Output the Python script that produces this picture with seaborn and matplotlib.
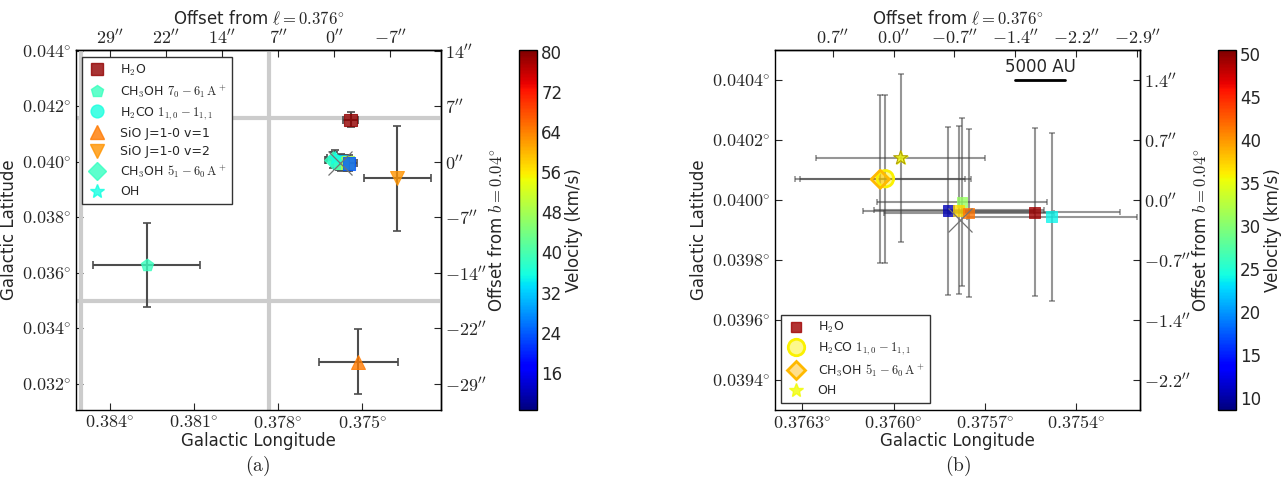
import matplotlib
matplotlib.use("Agg")
import matplotlib.pyplot as plt
from matplotlib.lines import Line2D
from matplotlib.colors import Normalize, to_rgba
from matplotlib.cm import ScalarMappable
import seaborn as sns

# positions in degrees, errors in degrees, velocities in km/s
h2o_l = [0.37541, 0.37582, 0.375775, 0.375786, 0.375753, 0.375536, 0.37548]
h2o_b = [0.04150, 0.039964, 0.039993, 0.039966, 0.039957, 0.039959, 0.039945]
h2o_lerr = [0.00027, 0.00028, 0.00028, 0.00028, 0.00028, 0.00028, 0.00028]
h2o_berr = [0.00027, 0.00028, 0.00028, 0.00028, 0.00028, 0.00028, 0.00028]
h2o_v = [79.0, 10.7, 31.0, 37.2, 41.5, 49.2, 23.9]

ch3oh70_l = [0.38268]
ch3oh70_b = [0.03628]
ch3oh70_lerr = [0.0019]
ch3oh70_berr = [0.0015]
ch3oh70_v = [38.6]

h2co_l = [0.376027]
h2co_b = [0.040071]
h2co_lerr = [0.00028]
h2co_berr = [0.00028]
h2co_v = [36.0]

sio1_l = [0.37514]
sio1_b = [0.03280]
sio1_lerr = [0.00141]
sio1_berr = [0.00118]
sio1_v = [64.5]

sio2_l = [0.37375]
sio2_b = [0.03940]
sio2_lerr = [0.0012]
sio2_berr = [0.00188]
sio2_v = [62.5]

ch3oh51_l = [0.376044]
ch3oh51_b = [0.040069]
ch3oh51_lerr = [0.00028]
ch3oh51_berr = [0.00028]
ch3oh51_v = [38.4]

oh_l = [0.375977]
oh_b = [0.040140]
oh_lerr = [0.000277]
oh_berr = [0.000279]
oh_v = [35.5]

cont_l = [0.375782]
cont_b = [0.039935]

# grey lines in panel (a)
vlines_a = [0.37833, 0.38502]
hlines_a = [0.04158, 0.03498]

l0, b0 = 0.376, 0.04
dist_pc = 8500.0
scale_au = 5000

species = [
    dict(key="h2o", label=r"H$_2$O", marker="s", l=h2o_l, b=h2o_b, lerr=h2o_lerr, berr=h2o_berr, v=h2o_v),
    dict(key="ch3oh70", label=r"CH$_3$OH $7_0-6_1\,\mathrm{A}^+$", marker="p", l=ch3oh70_l, b=ch3oh70_b,
         lerr=ch3oh70_lerr, berr=ch3oh70_berr, v=ch3oh70_v),
    dict(key="h2co", label=r"H$_2$CO $1_{1,0}-1_{1,1}$", marker="o", l=h2co_l, b=h2co_b,
         lerr=h2co_lerr, berr=h2co_berr, v=h2co_v),
    dict(key="sio1", label="SiO J=1-0 v=1", marker="^", l=sio1_l, b=sio1_b, lerr=sio1_lerr, berr=sio1_berr, v=sio1_v),
    dict(key="sio2", label="SiO J=1-0 v=2", marker="v", l=sio2_l, b=sio2_b, lerr=sio2_lerr, berr=sio2_berr, v=sio2_v),
    dict(key="ch3oh51", label=r"CH$_3$OH $5_1-6_0\,\mathrm{A}^+$", marker="D", l=ch3oh51_l, b=ch3oh51_b,
         lerr=ch3oh51_lerr, berr=ch3oh51_berr, v=ch3oh51_v),
    dict(key="oh", label="OH", marker="*", l=oh_l, b=oh_b, lerr=oh_lerr, berr=oh_berr, v=oh_v),
]

sizes_a = {"h2o": 85, "ch3oh70": 85, "h2co": 85, "sio1": 100, "sio2": 100, "ch3oh51": 80, "oh": 100}
sizes_b = {"h2o": 60, "h2co": 140, "ch3oh51": 85, "oh": 110}

sns.set_style("ticks")
plt.rcParams["font.family"] = ["DejaVu Sans"]
plt.rcParams["mathtext.fontset"] = "cm"
plt.rcParams["axes.edgecolor"] = "black"
plt.rcParams["axes.linewidth"] = 1.0

cmap = plt.get_cmap("jet")


def deg_label(val, nd):
    return r"$%.*f^{\circ}$" % (nd, val)


def arcsec_label(val, ref, nd):
    off = round((val - ref) * 3600.0, nd) + 0.0
    return r"$%.*f^{\prime\prime}$" % (nd, off)


def setup_axes(ax, xlim, ylim, xticks, yticks, top_ticks, right_ticks, nd_deg, nd_arc):
    ax.set_xlim(*xlim)
    ax.set_ylim(*ylim)
    ax.set_xticks(xticks)
    ax.set_xticklabels([deg_label(t, nd_deg) for t in xticks])
    ax.set_yticks(yticks)
    ax.set_yticklabels([deg_label(t, nd_deg) for t in yticks])
    ax.tick_params(direction="in", length=5, labelsize=13, pad=3)
    ax.set_xlabel("Galactic Longitude", fontsize=12, labelpad=0)
    ax.set_ylabel("Galactic Latitude", fontsize=12, labelpad=3)
    top = ax.secondary_xaxis("top")
    top.set_xticks(top_ticks)
    top.set_xticklabels([arcsec_label(t, l0, nd_arc) for t in top_ticks])
    top.tick_params(direction="in", length=5, labelsize=13, pad=2)
    top.set_xlabel(r"Offset from $\ell=0.376^{\circ}$", fontsize=12, labelpad=3)
    right = ax.secondary_yaxis("right")
    right.set_yticks(right_ticks)
    right.set_yticklabels([arcsec_label(t, b0, nd_arc) for t in right_ticks])
    right.tick_params(direction="in", length=5, labelsize=13, pad=3)
    right.set_ylabel(r"Offset from $b=0.04^{\circ}$", fontsize=12, labelpad=1)


fig = plt.figure(figsize=(12.84, 4.93), dpi=100)
W, H = 1284.0, 493.0
ax1 = fig.add_axes([76 / W, 83 / H, 365 / W, 360 / H])
cax1 = fig.add_axes([519 / W, 83 / H, 18 / W, 360 / H])
ax2 = fig.add_axes([775 / W, 83 / H, 365 / W, 360 / H])
cax2 = fig.add_axes([1218 / W, 83 / H, 18 / W, 360 / H])

# ---------------- panel (a) ----------------
norm_a = Normalize(8.6, 80.3)
for x in vlines_a:
    ax1.axvline(x, color="0.8", lw=3, zorder=1)
for y in hlines_a:
    ax1.axhline(y, color="0.8", lw=3, zorder=1)

for sp in species:
    ax1.errorbar(sp["l"], sp["b"], xerr=sp["lerr"], yerr=sp["berr"], fmt="none",
                 ecolor="0.3", elinewidth=1.5, capsize=3, capthick=1.2, zorder=2)
    sns.scatterplot(x=sp["l"], y=sp["b"], hue=sp["v"], palette=cmap, hue_norm=norm_a,
                    marker=sp["marker"], s=sizes_a[sp["key"]], alpha=0.8, edgecolor="face",
                    linewidth=0.8, legend=False, ax=ax1, zorder=3)
ax1.plot(cont_l, cont_b, marker="x", ls="none", color="0.45", ms=17, mew=0.9, zorder=4)

setup_axes(ax1, (0.3852, 0.3722), (0.03106, 0.04402),
           [0.384, 0.381, 0.378, 0.375],
           [0.032, 0.034, 0.036, 0.038, 0.040, 0.042, 0.044],
           [0.384, 0.382, 0.380, 0.378, 0.376, 0.374],
           [0.032, 0.034, 0.036, 0.038, 0.040, 0.042, 0.044], 3, 0)

handles_a = []
for sp in species:
    c = cmap(norm_a(sp["v"][0]))
    ms = sizes_a[sp["key"]] ** 0.5
    handles_a.append(Line2D([], [], marker=sp["marker"], ls="none", color=c, alpha=0.8,
                            markeredgecolor=c, ms=ms, label=sp["label"]))
leg = ax1.legend(handles=handles_a, loc="upper left", bbox_to_anchor=(0.016, 0.98), borderaxespad=0,
                 fontsize=9, frameon=True, fancybox=False, framealpha=1, edgecolor="0.2",
                 handletextpad=1.0, labelspacing=0.42, borderpad=0.45, handlelength=1.6)
leg.get_frame().set_linewidth(1.0)

cb1 = fig.colorbar(ScalarMappable(norm=norm_a, cmap=cmap), cax=cax1)
cb1.set_ticks([16, 24, 32, 40, 48, 56, 64, 72, 80])
cb1.set_label("Velocity (km/s)", fontsize=12, labelpad=2)
cb1.ax.tick_params(labelsize=12, length=0, pad=3)
cb1.outline.set_linewidth(1.0)

# ---------------- panel (b) ----------------
norm_b = Normalize(8.6, 50.5)
for sp in species:
    if sp["key"] not in sizes_b:
        continue
    ax2.errorbar(sp["l"], sp["b"], xerr=sp["lerr"], yerr=sp["berr"], fmt="none",
                 ecolor="0.25", alpha=0.55, elinewidth=1.5, capsize=2, capthick=1.2, zorder=2)
    ring = sp["key"] in ("h2co", "ch3oh51")
    sns.scatterplot(x=sp["l"], y=sp["b"], hue=sp["v"], palette=cmap, hue_norm=norm_b,
                    marker=sp["marker"], s=sizes_b[sp["key"]], alpha=0.45 if ring else 0.8,
                    edgecolor="none" if ring else "face", linewidth=0 if ring else 0.6,
                    legend=False, ax=ax2, zorder=3)
    if ring:
        ax2.scatter(sp["l"], sp["b"], s=sizes_b[sp["key"]], marker=sp["marker"], facecolors="none",
                    edgecolors=[cmap(norm_b(v)) for v in sp["v"]], linewidths=2, zorder=3.5)
    elif sp["key"] == "oh":
        ax2.scatter(sp["l"], sp["b"], s=sizes_b["oh"], marker="*", facecolors="none",
                    edgecolors="#b0a000", linewidths=0.8, zorder=3.5)
ax2.plot(cont_l, cont_b, marker="x", ls="none", color="0.45", ms=17, mew=0.9, zorder=4)

setup_axes(ax2, (0.37639, 0.37519), (0.0393, 0.0405),
           [0.3763, 0.3760, 0.3757, 0.3754],
           [0.0394, 0.0396, 0.0398, 0.0400, 0.0402, 0.0404],
           [0.3762, 0.3760, 0.3758, 0.3756, 0.3754, 0.3752],
           [0.0394, 0.0396, 0.0398, 0.0400, 0.0402, 0.0404], 4, 1)

# 5000 AU scale bar
bar_deg = scale_au / dist_pc / 3600.0
bar_start, bar_b = 0.3756, 0.04040
ax2.plot([bar_start, bar_start - bar_deg], [bar_b, bar_b], color="k", lw=2, zorder=5)
ax2.text(bar_start - bar_deg / 2, bar_b + 0.000012, "%d AU" % scale_au, ha="center", va="bottom", fontsize=12)

legend_idx_b = {"h2o": 5, "h2co": 0, "ch3oh51": 0, "oh": 0}
handles_b = []
for sp in species:
    if sp["key"] not in sizes_b:
        continue
    c = cmap(norm_b(sp["v"][legend_idx_b[sp["key"]]]))
    ms = sizes_b[sp["key"]] ** 0.5
    if sp["key"] in ("h2co", "ch3oh51"):
        h = Line2D([], [], marker=sp["marker"], ls="none", markerfacecolor=to_rgba(c, 0.45),
                   markeredgecolor=c, mew=2, ms=ms, label=sp["label"])
    else:
        h = Line2D([], [], marker=sp["marker"], ls="none", color=c, alpha=0.8, ms=ms, label=sp["label"])
    handles_b.append(h)
leg2 = ax2.legend(handles=handles_b, loc="lower left", bbox_to_anchor=(0.016, 0.02), borderaxespad=0,
                  fontsize=9, frameon=True, fancybox=False, framealpha=1, edgecolor="0.2",
                  handletextpad=0.9, labelspacing=0.42, borderpad=0.45, handlelength=1.6)
leg2.get_frame().set_linewidth(1.0)

cb2 = fig.colorbar(ScalarMappable(norm=norm_b, cmap=cmap), cax=cax2)
cb2.set_ticks([10, 15, 20, 25, 30, 35, 40, 45, 50])
cb2.set_label("Velocity (km/s)", fontsize=12, labelpad=2)
cb2.ax.tick_params(labelsize=12, length=0, pad=3)
cb2.outline.set_linewidth(1.0)

fig.text(258 / W, 1 - 466 / H, r"$\mathrm{(a)}$", ha="center", va="center", fontsize=14)
fig.text(958 / W, 1 - 466 / H, r"$\mathrm{(b)}$", ha="center", va="center", fontsize=14)

fig.savefig("out.png", dpi=100)
